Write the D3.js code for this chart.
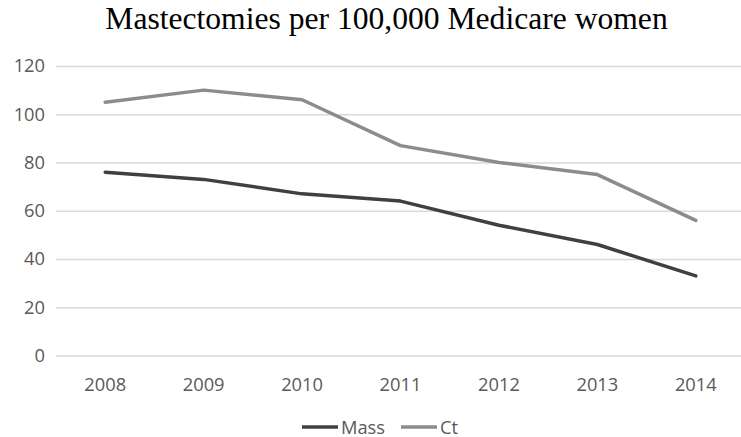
<!DOCTYPE html>
<html>
<head>
<meta charset="utf-8">
<script src="https://cdn.jsdelivr.net/npm/d3@7"></script>
<style>
  html, body { margin: 0; padding: 0; background: #fff; }
  svg { display: block; }
</style>
</head>
<body>
<div id="chart"></div>
<script>
// Mastectomy rates per 100,000 Medicare women, by year
const years = ["2008", "2009", "2010", "2011", "2012", "2013", "2014"];
const massValues = [76, 73, 67, 64, 54, 46, 33];
const ctValues = [105, 110, 106, 87, 80, 75, 56];
const yTicks = [0, 20, 40, 60, 80, 100, 120];
const seriesNames = ["Mass", "Ct"];
const seriesColors = ["#404040", "#8c8c8c"];
const titleText = "Mastectomies per 100,000 Medicare women";

const W = 741, H = 437;
const margin = { top: 66, right: -4, bottom: 81, left: 56 };
const labelFont = "'Open Sans', sans-serif";
const labelSize = 18.3;

const svg = d3.select("#chart").append("svg")
  .attr("width", W).attr("height", H);

const x = d3.scaleBand()
  .domain(years)
  .range([margin.left, W - margin.right]);

const y = d3.scaleLinear()
  .domain([0, 120])
  .range([H - margin.bottom - 0.5, margin.top]);

// Title
svg.append("text")
  .attr("x", 386.5).attr("y", 29)
  .attr("text-anchor", "middle")
  .attr("font-family", "'Liberation Serif', 'Times New Roman', serif")
  .attr("font-size", 31.6)
  .attr("fill", "#000")
  .text(titleText);

// Horizontal gridlines with value labels
const yAxis = d3.axisLeft(y)
  .tickValues(yTicks)
  .tickSize(-(W - margin.left - margin.right))
  .tickPadding(11);

const gy = svg.append("g")
  .attr("transform", `translate(${margin.left},0)`)
  .call(yAxis);
gy.select(".domain").remove();
gy.selectAll(".tick line")
  .attr("stroke", "#d9d9d9")
  .attr("stroke-width", 1.3);
gy.selectAll(".tick text")
  .attr("font-family", labelFont)
  .attr("font-size", labelSize)
  .attr("fill", "#595959");

// Category axis labels
const xAxis = d3.axisBottom(x).tickSize(0).tickPadding(23);
const gx = svg.append("g")
  .attr("transform", `translate(0,${y(0)})`)
  .call(xAxis);
gx.select(".domain").remove();
gx.selectAll(".tick text")
  .attr("font-family", labelFont)
  .attr("font-size", labelSize)
  .attr("fill", "#595959");

// Series lines
const line = d3.line()
  .x((d, i) => x(years[i]) + x.bandwidth() / 2)
  .y(d => y(d));

[massValues, ctValues].forEach((vals, k) => {
  svg.append("path")
    .datum(vals)
    .attr("fill", "none")
    .attr("stroke", seriesColors[k])
    .attr("stroke-width", 3.5)
    .attr("stroke-linejoin", "round")
    .attr("stroke-linecap", "round")
    .attr("d", line);
});

// Legend
const legendItems = [
  { name: seriesNames[0], color: seriesColors[0], x: 302 },
  { name: seriesNames[1], color: seriesColors[1], x: 401 }
];
const legendY = 427;
const lg = svg.append("g");
legendItems.forEach(item => {
  lg.append("line")
    .attr("x1", item.x).attr("x2", item.x + 36)
    .attr("y1", legendY).attr("y2", legendY)
    .attr("stroke", item.color)
    .attr("stroke-width", 3.5);
  lg.append("text")
    .attr("x", item.x + 39).attr("y", legendY + 6.5)
    .attr("font-family", labelFont)
    .attr("font-size", labelSize)
    .attr("fill", "#595959")
    .text(item.name);
});
</script>
</body>
</html>
